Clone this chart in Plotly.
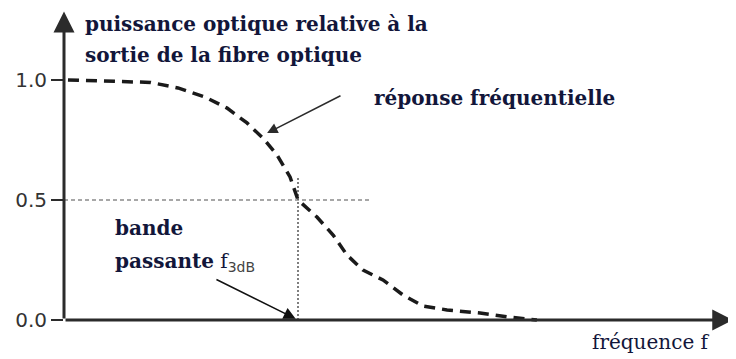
import plotly.graph_objects as go

# frequency normalised to f3dB, relative optical power
freq = [0.017, 0.37, 0.487, 0.603, 0.697, 0.782, 0.85, 0.91, 0.966, 1.0,
        1.081, 1.15, 1.209, 1.278, 1.363, 1.449, 1.534, 1.637, 1.778, 1.893, 2.021]
power = [1.0, 0.99, 0.967, 0.929, 0.883, 0.821, 0.758, 0.688, 0.596, 0.5,
         0.429, 0.354, 0.271, 0.208, 0.167, 0.104, 0.058, 0.042, 0.029, 0.013, 0.0]
tick_vals = [0.0, 0.5, 1.0]
tick_text = ['0.0', '0.5', '1.0']
f3db = 1.0
half_power = 0.5

ink = '#2b2b2b'
txt = '#12163a'
serif = 'DejaVu Serif'

fig = go.Figure()

# guide lines for the -3 dB point
fig.add_trace(go.Scatter(x=[0, 1.31], y=[half_power, half_power], mode='lines',
                         line=dict(color='#8a8a8a', width=1.5, dash='4px,3px'),
                         hoverinfo='skip'))
fig.add_trace(go.Scatter(x=[f3db, f3db], y=[0, 0.6], mode='lines',
                         line=dict(color='#555555', width=1.5, dash='2px,2px'),
                         hoverinfo='skip'))

# frequency response
fig.add_trace(go.Scatter(x=freq, y=power, mode='lines',
                         line=dict(color='#1a1a1a', width=3.5, dash='11px,7px'),
                         hoverinfo='skip'))


def arrow(x0, y0, x1, y1, width, size, color):
    return dict(x=x1, y=y1, ax=x0, ay=y0, xref='x', yref='y', axref='x', ayref='y',
                text='', showarrow=True, arrowhead=2, arrowsize=size,
                arrowwidth=width, arrowcolor=color)


ann = [
    arrow(0, 0, 2.86, 0, 3, 1.4, ink),        # x axis
    arrow(0, 0, 0, 1.285, 3, 1.4, ink),       # y axis
    arrow(1.188, 0.9375, 0.868, 0.779, 1.5, 1.4, ink),
    arrow(0.645, 0.172, f3db - 0.01, 0.005, 1.5, 1.6, '#111111'),
]

bold = dict(family=serif, size=20, color=txt)
ann.append(dict(x=0.081, y=1.235, xref='x', yref='y', xanchor='left', yanchor='middle',
                text='<b>puissance optique relative à la</b>', showarrow=False, font=bold))
ann.append(dict(x=0.081, y=1.103, xref='x', yref='y', xanchor='left', yanchor='middle',
                text='<b>sortie de la fibre optique</b>', showarrow=False, font=bold))
ann.append(dict(x=1.316, y=0.925, xref='x', yref='y', xanchor='left', yanchor='middle',
                text='<b>réponse fréquentielle</b>', showarrow=False, font=bold))
ann.append(dict(x=0.209, y=0.383, xref='x', yref='y', xanchor='left', yanchor='middle',
                text='<b>bande</b>', showarrow=False, font=bold))
ann.append(dict(x=0.209, y=0.24, xref='x', yref='y', xanchor='left', yanchor='middle',
                text='<b>passante</b> f<sub><span style="font-family:DejaVu Sans;color:#444">3dB</span></sub>',
                showarrow=False, font=bold))
ann.append(dict(x=2.248, y=-0.093, xref='x', yref='y', xanchor='left', yanchor='middle',
                text='fréquence f', showarrow=False,
                font=dict(family=serif, size=20, color=txt)))

# the page body has an 8px margin, so the figure is 8px smaller and shifted
fig.update_layout(
    width=728, height=351,
    margin=dict(l=56, r=0, t=0, b=15),
    paper_bgcolor='white', plot_bgcolor='white',
    showlegend=False,
    annotations=ann,
    xaxis=dict(range=[0, 672 / 234], showgrid=False, zeroline=False,
               showline=False, showticklabels=False, ticks=''),
    yaxis=dict(range=[-0.1, 1.3], showgrid=False, zeroline=False, showline=False,
               tickmode='array', tickvals=tick_vals, ticktext=tick_text,
               ticks='outside', ticklen=12, tickwidth=2, tickcolor=ink,
               tickfont=dict(family='DejaVu Sans', size=20, color='#333333')),
)

fig.write_html('out.html')
